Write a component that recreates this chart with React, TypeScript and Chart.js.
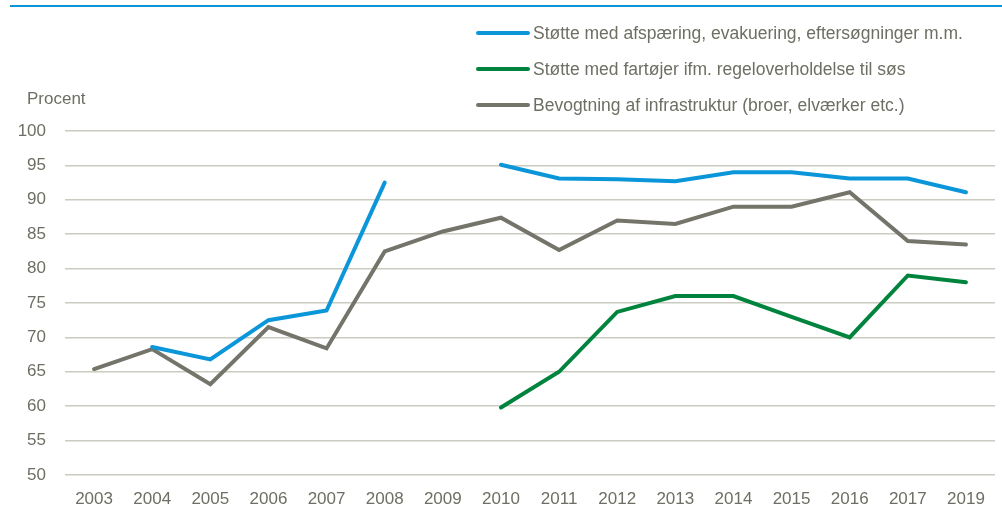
import React, { useEffect, useRef } from "react";
import { Chart, registerables } from "chart.js";

Chart.register(...registerables);

const years = ["2003", "2004", "2005", "2006", "2007", "2008", "2009", "2010", "2011", "2012", "2013", "2014", "2015", "2016", "2017", "2019"];

const afspaering = [null, 68.6, 66.8, 72.5, 73.9, 92.5, null, 95.1, 93.1, 93.0, 92.7, 94.0, 94.0, 93.1, 93.1, 91.1];
const fartoejer = [null, null, null, null, null, null, null, 59.8, 65.0, 73.7, 76.0, 76.0, 73.0, 70.0, 79.0, 78.0];
const bevogtning = [65.4, 68.3, 63.2, 71.5, 68.4, 82.5, 85.4, 87.4, 82.7, 87.0, 86.5, 89.0, 89.0, 91.1, 84.0, 83.5];

const seriesLabels = [
  "Støtte med afspæring, evakuering, eftersøgninger m.m.",
  "Støtte med fartøjer ifm. regeloverholdelse til søs",
  "Bevogtning af infrastruktur (broer, elværker etc.)",
];
const seriesColors = ["#0A96D9", "#00843D", "#75746A"];

const yTicks = [50, 55, 60, 65, 70, 75, 80, 85, 90, 95, 100];
const yAxisTitle = "Procent";

const TEXT = "#6E6E64";
const FONT = "'Liberation Sans', Arial, sans-serif";

const legendPlugin = {
  id: "customLegend",
  afterDraw(chart: any) {
    const ctx = chart.ctx;
    ctx.save();
    ctx.font = `17.5px ${FONT}`;
    ctx.textBaseline = "middle";
    ctx.textAlign = "left";
    chart.data.datasets.forEach((ds: any, i: number) => {
      const y = 33 + i * 36;
      ctx.strokeStyle = ds.borderColor;
      ctx.lineWidth = 4;
      ctx.lineCap = "round";
      ctx.beginPath();
      ctx.moveTo(478, y);
      ctx.lineTo(528, y);
      ctx.stroke();
      ctx.fillStyle = TEXT;
      ctx.fillText(ds.label, 533, y + 1);
    });
    ctx.font = `17px ${FONT}`;
    ctx.fillText(yAxisTitle, 27, 99);
    ctx.restore();
  },
};

export default function App() {
  const ref = useRef<HTMLCanvasElement | null>(null);
  useEffect(() => {
    if (!ref.current) return;
    const mk = (label: string, data: (number | null)[], color: string) => ({
      label,
      data,
      borderColor: color,
      backgroundColor: color,
      borderWidth: 4,
      pointRadius: 0,
      pointHoverRadius: 0,
      tension: 0,
      spanGaps: false,
      borderCapStyle: "round" as const,
      borderJoinStyle: "miter" as const,
    });
    const chart = new Chart(ref.current, {
      type: "line",
      data: {
        labels: years,
        datasets: [
          mk(seriesLabels[0], afspaering, seriesColors[0]),
          mk(seriesLabels[1], fartoejer, seriesColors[1]),
          mk(seriesLabels[2], bevogtning, seriesColors[2]),
        ],
      },
      plugins: [legendPlugin],
      options: {
        animation: false,
        responsive: false,
        maintainAspectRatio: false,
        layout: { padding: { top: 131, right: 7, left: 0, bottom: 0 } },
        plugins: { legend: { display: false }, tooltip: { enabled: false } },
        scales: {
          x: {
            offset: true,
            grid: { display: false },
            border: { display: false },
            ticks: {
              color: TEXT,
              font: { family: FONT, size: 17 },
              padding: 6,
              maxRotation: 0,
              autoSkip: false,
            },
            afterFit: (s: any) => {
              s.height = 45;
            },
          },
          y: {
            min: 50,
            max: 100,
            afterBuildTicks: (s: any) => {
              s.ticks = yTicks.map((v) => ({ value: v }));
            },
            grid: { color: "#CBCBC2", lineWidth: 1.5, drawTicks: false },
            border: { display: false },
            ticks: {
              color: TEXT,
              font: { family: FONT, size: 17 },
              padding: 19,
            },
            afterFit: (s: any) => {
              s.width = 65;
            },
          },
        },
      },
    });
    return () => chart.destroy();
  }, []);
  return (
    <div style={{ position: "fixed", left: 0, top: 0, width: 1002, height: 520, background: "#fff" }}>
      <div style={{ position: "absolute", left: 10, right: 0, top: 5, height: 2, background: "#0A96D9" }} />
      <canvas ref={ref} width={1002} height={520} style={{ position: "absolute", left: 0, top: 0 }} />
    </div>
  );
}
